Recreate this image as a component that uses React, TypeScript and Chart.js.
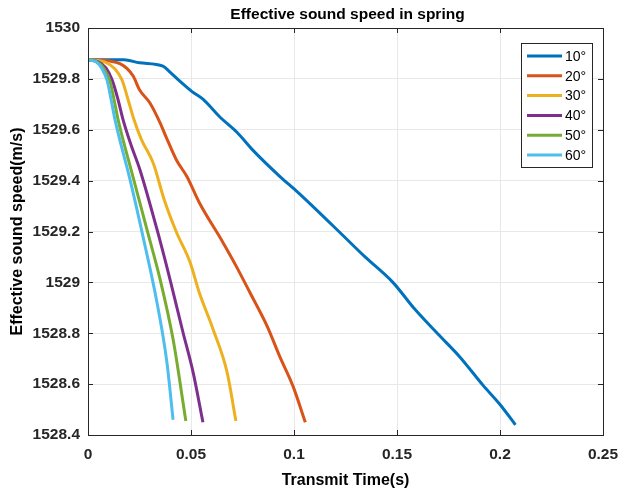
import React, { useEffect, useRef } from "react";
import { Chart, registerables } from "chart.js";
Chart.register(...registerables);

const seriesLabels = ["10°", "20°", "30°", "40°", "50°", "60°"];
const seriesColors = ["#0072BD", "#D95319", "#EDB120", "#7E2F8E", "#77AC30", "#4DBEEE"];

const t10 = [0, 0.0107, 0.0175, 0.025, 0.0364, 0.0398, 0.0447, 0.0505, 0.0558, 0.064, 0.0723, 0.08, 0.0932, 0.1015, 0.109, 0.1223, 0.1345, 0.148, 0.1587, 0.17, 0.1806, 0.1917, 0.2, 0.2075];
const c10 = [1529.875, 1529.875, 1529.875, 1529.863, 1529.85, 1529.827, 1529.79, 1529.75, 1529.72, 1529.65, 1529.59, 1529.52, 1529.416, 1529.357, 1529.3, 1529.196, 1529.1, 1529.0, 1528.894, 1528.796, 1528.706, 1528.596, 1528.52, 1528.44];

const t20 = [0, 0.0107, 0.0155, 0.019, 0.022, 0.025, 0.03, 0.035, 0.038, 0.043, 0.048, 0.054, 0.0655, 0.072, 0.0786, 0.087, 0.093, 0.0995, 0.1055];
const c20 = [1529.875, 1529.87, 1529.86, 1529.84, 1529.81, 1529.757, 1529.706, 1529.627, 1529.57, 1529.48, 1529.416, 1529.314, 1529.157, 1529.063, 1528.96, 1528.827, 1528.71, 1528.592, 1528.45];

const t30 = [0, 0.008, 0.013, 0.0165, 0.0194, 0.0223, 0.026, 0.0316, 0.037, 0.043, 0.0495, 0.054, 0.0607, 0.0675, 0.0718];
const c30 = [1529.875, 1529.867, 1529.84, 1529.796, 1529.72, 1529.64, 1529.56, 1529.47, 1529.325, 1529.196, 1529.08, 1528.96, 1528.816, 1528.647, 1528.455];

const t40 = [0, 0.005, 0.0087, 0.0117, 0.0146, 0.017, 0.0209, 0.0252, 0.0335, 0.0398, 0.0461, 0.051, 0.0558];
const c40 = [1529.875, 1529.867, 1529.843, 1529.796, 1529.718, 1529.64, 1529.54, 1529.443, 1529.208, 1529.012, 1528.804, 1528.647, 1528.45];

const t50 = [0, 0.0044, 0.0078, 0.0107, 0.0126, 0.0146, 0.0218, 0.0286, 0.035, 0.0413, 0.0475];
const c50 = [1529.875, 1529.867, 1529.84, 1529.79, 1529.72, 1529.64, 1529.416, 1529.208, 1529.012, 1528.776, 1528.455];

const t60 = [0, 0.0039, 0.0068, 0.0092, 0.0112, 0.0131, 0.0204, 0.0267, 0.0335, 0.0383, 0.0413];
const c60 = [1529.875, 1529.867, 1529.84, 1529.796, 1529.72, 1529.64, 1529.404, 1529.18, 1528.92, 1528.686, 1528.46];

const xTicks = [0, 0.05, 0.1, 0.15, 0.2, 0.25];
const xTickLabels = ["0", "0.05", "0.1", "0.15", "0.2", "0.25"];
const yTicks = [1528.4, 1528.6, 1528.8, 1529, 1529.2, 1529.4, 1529.6, 1529.8, 1530];
const yTickLabels = ["1528.4", "1528.6", "1528.8", "1529", "1529.2", "1529.4", "1529.6", "1529.8", "1530"];

const titleText = "Effective sound speed in spring";
const xTitle = "Transmit Time(s)";
const yTitle = "Effective sound speed(m/s)";

const FONT = "'Liberation Sans', Arial, Helvetica, sans-serif";
const AXIS_COLOR = "#262626";

const allT = [t10, t20, t30, t40, t50, t60];
const allC = [c10, c20, c30, c40, c50, c60];

const framePlugin = {
  id: "frame",
  afterDatasetsDraw(chart: any) {
    const { ctx, chartArea } = chart;
    const { left, right, top, bottom } = chartArea;
    ctx.save();
    ctx.strokeStyle = AXIS_COLOR;
    ctx.lineWidth = 1;
    ctx.strokeRect(Math.round(left) + 0.5, Math.round(top) + 0.5, Math.round(right - left), Math.round(bottom - top));
    const tl = 5;
    ctx.beginPath();
    xTicks.forEach((v) => {
      const px = Math.round(chart.scales.x.getPixelForValue(v)) + 0.5;
      ctx.moveTo(px, bottom);
      ctx.lineTo(px, bottom - tl);
      ctx.moveTo(px, top);
      ctx.lineTo(px, top + tl);
    });
    yTicks.forEach((v) => {
      const py = Math.round(chart.scales.y.getPixelForValue(v)) + 0.5;
      ctx.moveTo(left, py);
      ctx.lineTo(left + tl, py);
      ctx.moveTo(right, py);
      ctx.lineTo(right - tl, py);
    });
    ctx.stroke();

    // title
    ctx.fillStyle = "#000";
    ctx.font = `bold 15.5px ${FONT}`;
    ctx.textAlign = "center";
    ctx.textBaseline = "middle";
    ctx.fillText(titleText, (left + right) / 2 + 2, top - 13);

    // legend
    const bw = 71, bh = 124;
    const bx = right - 11 - bw;
    const by = top + 15;
    ctx.fillStyle = "#fff";
    ctx.fillRect(bx, by, bw, bh);
    ctx.strokeStyle = AXIS_COLOR;
    ctx.lineWidth = 1;
    ctx.strokeRect(Math.round(bx) + 0.5, Math.round(by) + 0.5, bw, bh);
    ctx.font = `14px ${FONT}`;
    ctx.textAlign = "left";
    ctx.textBaseline = "middle";
    seriesLabels.forEach((lab, i) => {
      const yy = by + 13 + i * 19.8;
      ctx.strokeStyle = seriesColors[i];
      ctx.lineWidth = 3;
      ctx.beginPath();
      ctx.moveTo(bx + 6, yy);
      ctx.lineTo(bx + 41, yy);
      ctx.stroke();
      ctx.fillStyle = "#000";
      ctx.fillText(lab, bx + 44, yy + 1);
    });
    ctx.restore();
  },
};

export default function App() {
  const ref = useRef<HTMLCanvasElement | null>(null);
  useEffect(() => {
    if (!ref.current) return;
    const datasets = seriesLabels.map((lab, i) => ({
      label: lab,
      data: allT[i].map((t, j) => ({ x: t, y: allC[i][j] })),
      borderColor: seriesColors[i],
      backgroundColor: seriesColors[i],
      borderWidth: 3,
      pointRadius: 0,
      cubicInterpolationMode: "monotone",
      fill: false,
      order: 5 - i,
    }));
    const chart = new Chart(ref.current, {
      type: "line",
      data: { datasets },
      plugins: [framePlugin],
      options: {
        animation: false,
        responsive: false,
        layout: { padding: { top: 28, right: 21, left: 0, bottom: 0 } },
        plugins: { legend: { display: false }, tooltip: { enabled: false }, title: { display: false } },
        scales: {
          x: {
            type: "linear",
            min: 0,
            max: 0.25,
            afterBuildTicks: (s: any) => {
              s.ticks = xTicks.map((v) => ({ value: v }));
            },
            afterFit: (s: any) => {
              s.height = 55;
              s.paddingLeft = 0;
              s.paddingRight = 0;
            },
            ticks: {
              callback: (v: any) => {
                const idx = xTicks.findIndex((t) => Math.abs(t - Number(v)) < 1e-9);
                return idx >= 0 ? xTickLabels[idx] : "";
              },
              font: { family: FONT, size: 15.5, weight: "bold" },
              color: AXIS_COLOR,
              padding: 10,
              maxRotation: 0,
              autoSkip: false,
            },
            grid: { color: "#e8e8e8", drawTicks: false, lineWidth: 1 },
            border: { display: false },
            title: {
              display: true,
              text: xTitle,
              color: "#000",
              font: { family: FONT, size: 16, weight: "bold" },
              padding: { top: 0, bottom: 0 },
            },
          },
          y: {
            type: "linear",
            min: 1528.4,
            max: 1530,
            afterBuildTicks: (s: any) => {
              s.ticks = yTicks.map((v) => ({ value: v }));
            },
            afterFit: (s: any) => {
              s.width = 88;
              s.paddingTop = 0;
              s.paddingBottom = 0;
            },
            ticks: {
              callback: (v: any) => {
                const idx = yTicks.findIndex((t) => Math.abs(t - Number(v)) < 1e-6);
                return idx >= 0 ? yTickLabels[idx] : "";
              },
              font: { family: FONT, size: 15.5, weight: "bold" },
              color: AXIS_COLOR,
              padding: 8,
              autoSkip: false,
            },
            grid: { color: "#e8e8e8", drawTicks: false, lineWidth: 1 },
            border: { display: false },
            title: {
              display: true,
              text: yTitle,
              color: "#000",
              font: { family: FONT, size: 16, weight: "bold" },
              padding: { top: 8, bottom: 0 },
            },
          },
        },
      },
    } as any);
    return () => chart.destroy();
  }, []);
  return (
    <div style={{ position: "fixed", left: 0, top: 0, width: 624, height: 490, background: "#fff" }}>
      <canvas ref={ref} width={624} height={490} style={{ width: 624, height: 490, display: "block" }} />
    </div>
  );
}
